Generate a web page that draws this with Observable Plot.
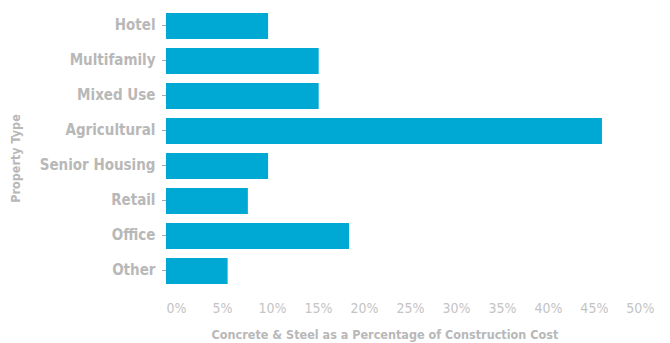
<!DOCTYPE html>
<html>
<head>
<meta charset="utf-8">
<script src="https://cdn.jsdelivr.net/npm/d3@7"></script>
<script src="https://cdn.jsdelivr.net/npm/@observablehq/plot@0.6"></script>
<style>
  html, body { margin: 0; padding: 0; background: #fff; }
  #chart svg { display: block; }
</style>
</head>
<body>
<div id="chart"></div>
<script>
const categories = ["Hotel", "Multifamily", "Mixed Use", "Agricultural", "Senior Housing", "Retail", "Office", "Other"];
const values = [0.111, 0.166, 0.166, 0.474, 0.111, 0.089, 0.199, 0.067];
const xTicks = [0, 0.05, 0.10, 0.15, 0.20, 0.25, 0.30, 0.35, 0.40, 0.45, 0.50];
const xTitle = "Concrete & Steel as a Percentage of Construction Cost";
const yTitle = "Property Type";

const data = categories.map((c, i) => ({category: c, value: values[i]}));
const font = "'DejaVu Sans Condensed', 'Liberation Sans Narrow', sans-serif";
const grey = "#b8b8b8";

const chart = Plot.plot({
  width: 670,
  height: 343,
  marginLeft: 166,
  marginRight: 0,
  marginTop: 8.5,
  marginBottom: 54.5,
  style: {fontFamily: font, background: "#fff", fontStretch: "condensed"},
  x: {domain: [0, 0.548], axis: null},
  y: {domain: categories, paddingInner: 0.264, paddingOuter: 0.1, axis: null},
  marks: [
    Plot.axisY({tickSize: 4, tickPadding: 7, stroke: "#aaa", fontSize: 15, fontWeight: "bold", fill: grey, label: null, dy: -1}),
    Plot.barX(data, {x: "value", y: "category", fill: "#00a8d4"}),
    Plot.ruleY([0], {frameAnchor: "bottom", stroke: "#cccccc", strokeWidth: 1.5}),
    Plot.axisX({ticks: xTicks, tickSize: 0, tickPadding: 14, tickFormat: d => Math.round(d * 100) + "%", textAnchor: "start", fontSize: 14, fill: "#c4c4c4", label: null}),
    Plot.text([xTitle], {frameAnchor: "bottom", x: 0.2375, dy: 46, text: d => d, fontSize: 12.5, fontWeight: "bold", fill: grey, lineAnchor: "middle"}),
    Plot.text([yTitle], {frameAnchor: "left", dx: -151, dy: 9.5, rotate: -90, textAnchor: "middle", text: d => d, fontSize: 12.5, fontWeight: "bold", fill: grey, lineAnchor: "middle"})
  ]
});
document.getElementById("chart").append(chart);
</script>
</body>
</html>
